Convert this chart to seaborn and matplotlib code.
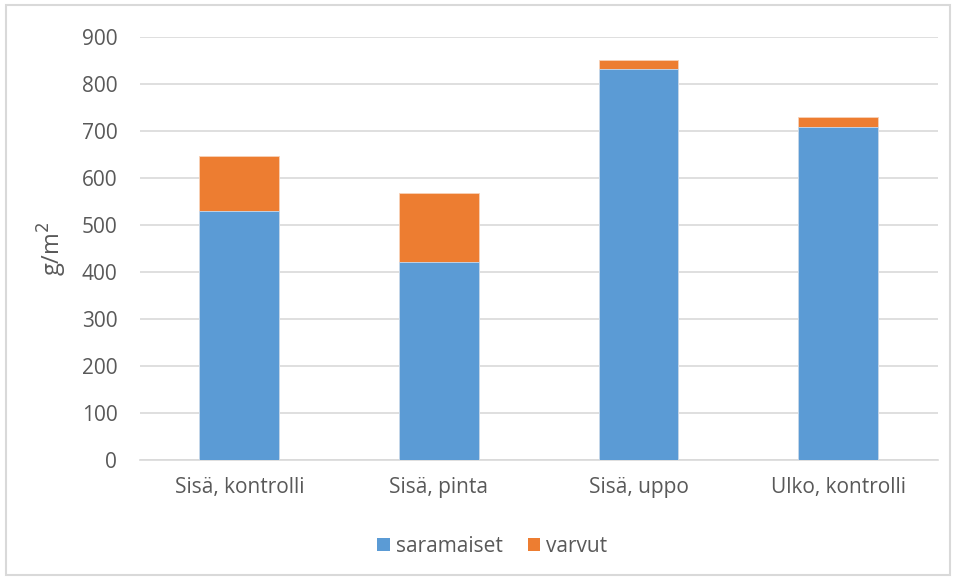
import matplotlib
matplotlib.use("Agg")
import matplotlib.pyplot as plt
import seaborn as sns
import pandas as pd
from matplotlib.patches import Rectangle, Patch

categories = ["Sisä, kontrolli", "Sisä, pinta", "Sisä, uppo", "Ulko, kontrolli"]
saramaiset = [530, 422, 832, 708]
varvut = [117, 146, 20, 21]
y_ticks = [0, 100, 200, 300, 400, 500, 600, 700, 800, 900]

blue = "#5B9BD5"
orange = "#ED7D31"
text_col = "#595959"

sns.set_theme(style="white")
plt.rcParams["font.family"] = ["Open Sans", "DejaVu Sans"]

df = pd.DataFrame({"kategoria": categories, "saramaiset": saramaiset, "varvut": varvut})
df["yhteensä"] = df["saramaiset"] + df["varvut"]

fig = plt.figure(figsize=(9.56, 5.8), dpi=100)
ax = fig.add_axes([0.146, 0.207, 0.835, 0.729])

# stacked columns: total in orange, lower part in blue drawn over it
sns.barplot(data=df, x="kategoria", y="yhteensä", color=orange, width=0.4,
            saturation=1, ax=ax, zorder=3, linewidth=0.6, edgecolor="#F8D2B8")
sns.barplot(data=df, x="kategoria", y="saramaiset", color=blue, width=0.4,
            saturation=1, ax=ax, zorder=4, linewidth=0.6, edgecolor="#C8DCF0")

ax.set_ylim(0, 900)
ax.set_yticks(y_ticks)
ax.set_xlim(-0.5, 3.5)
ax.yaxis.grid(True, color="#D9D9D9", linewidth=1.2, zorder=0)
ax.set_axisbelow(True)
for s in ["left", "right", "top"]:
    ax.spines[s].set_visible(False)
ax.spines["bottom"].set_color("#D9D9D9")
ax.spines["bottom"].set_linewidth(1.2)
ax.tick_params(axis="both", length=0, labelsize=15, colors=text_col)
ax.tick_params(axis="y", pad=16)
ax.tick_params(axis="x", pad=12)
ax.set_xlabel("")
ax.set_ylabel("g/m$^2$", fontsize=17, color=text_col, labelpad=9)

handles = [Patch(facecolor=blue, edgecolor="none", label="saramaiset"),
           Patch(facecolor=orange, edgecolor="none", label="varvut")]
fig.legend(handles=handles, loc="center", bbox_to_anchor=(0.515, 0.058), ncol=2,
           frameon=False, fontsize=15, handlelength=0.6, handleheight=0.6,
           handletextpad=0.3, columnspacing=1.2, labelcolor=text_col)

fig.patches.append(Rectangle((0.006, 0.008), 0.988, 0.984, transform=fig.transFigure,
                             fill=False, edgecolor="#D9D9D9", linewidth=1.5))

fig.savefig("out.png", dpi=100)
